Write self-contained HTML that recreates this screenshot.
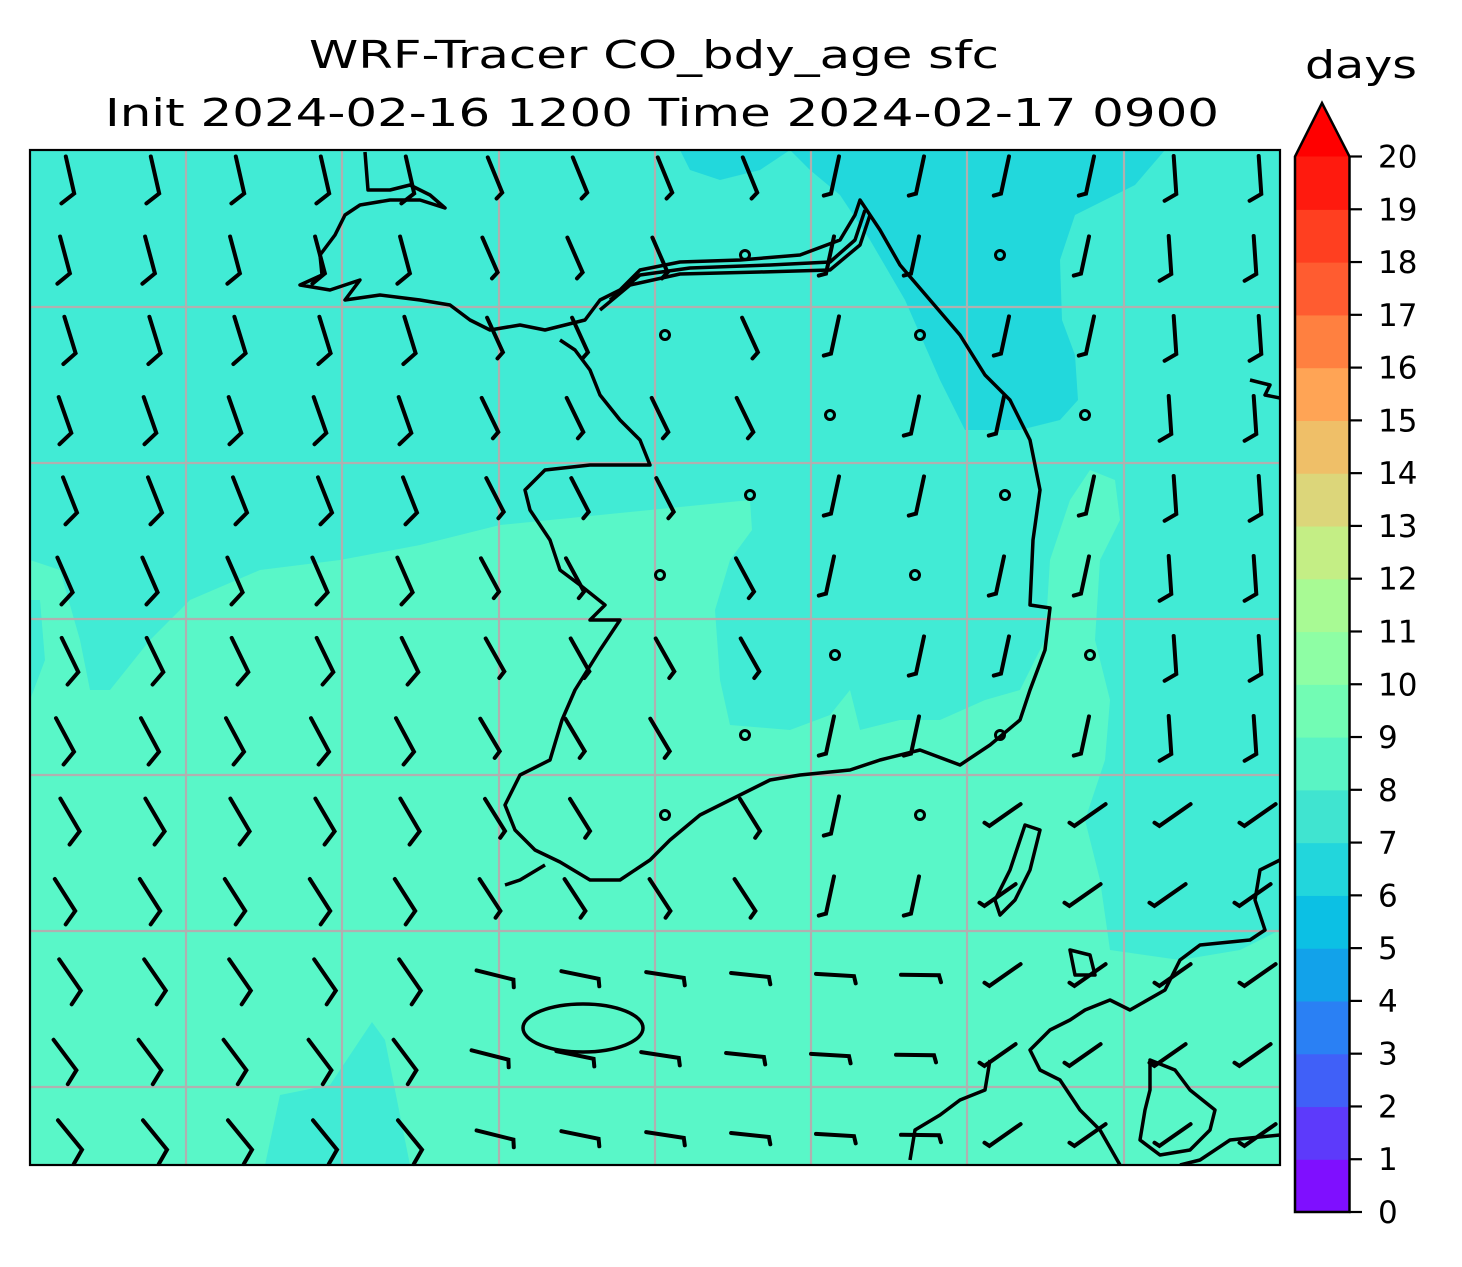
<!DOCTYPE html>
<html><head><meta charset="utf-8"><style>
html,body{margin:0;padding:0;background:#fff;}
svg{display:block;font-family:"DejaVu Sans","Liberation Sans",sans-serif;}
</style></head><body>
<svg id="s" width="1462" height="1267" viewBox="0 0 1462 1267" xmlns="http://www.w3.org/2000/svg">
<defs><clipPath id="c"><rect x="30" y="150" width="1250" height="1015"/></clipPath></defs>
<g clip-path="url(#c)">
<rect x="30" y="150" width="1250" height="1015" fill="#41ebd5"/>
<path fill="#59f7c8" d="M30,560 L60,570 L80,640 L90,690 L110,690 L150,640 L190,600 L260,570 L340,560 L420,545 L500,525 L600,515 L700,505 L750,500 L752,530 L730,560 L715,610 L720,680 L730,725 L790,730 L830,715 L850,690 L860,730 L900,720 L940,720 L985,700 L1020,690 L1045,640 L1050,560 L1070,500 L1090,470 L1115,480 L1120,520 L1100,560 L1095,640 L1110,700 L1105,760 L1085,820 L1100,880 L1110,950 L1180,960 L1240,950 L1280,930 L1280,1165 L30,1165 Z"/>
<path fill="#41ebd5" d="M265,1165 L280,1095 L330,1085 L360,1040 L372,1022 L385,1040 L395,1090 L410,1165 Z"/>
<path fill="#41ebd5" d="M30,600 L40,600 L45,660 L30,700 Z"/>
<path fill="#22d8dc" d="M790,150 L1165,150 L1135,185 L1075,215 L1060,260 L1062,320 L1075,355 L1078,400 L1060,420 L1020,430 L965,430 L940,380 L905,300 L870,240 L840,195 L810,170 Z"/>
<path fill="#22d8dc" d="M680,150 L790,150 L760,170 L720,180 L690,170 Z"/>
</g>
<g stroke="#b0b0b0" stroke-width="2.2">
<line x1="186" y1="150" x2="186" y2="1165"/><line x1="342" y1="150" x2="342" y2="1165"/><line x1="499" y1="150" x2="499" y2="1165"/><line x1="655" y1="150" x2="655" y2="1165"/><line x1="811" y1="150" x2="811" y2="1165"/><line x1="967" y1="150" x2="967" y2="1165"/><line x1="1124" y1="150" x2="1124" y2="1165"/>
<line x1="30" y1="307" x2="1280" y2="307"/><line x1="30" y1="463" x2="1280" y2="463"/><line x1="30" y1="619" x2="1280" y2="619"/><line x1="30" y1="775" x2="1280" y2="775"/><line x1="30" y1="931" x2="1280" y2="931"/><line x1="30" y1="1087" x2="1280" y2="1087"/>
</g>
<g clip-path="url(#c)" fill="none" stroke="#000" stroke-width="3.5" stroke-linejoin="round">
<path d="M365,152 L368,190 L390,190 L410,185 L430,195 L445,208 L420,200 L390,200 L360,205 L345,215 L335,235 L320,255 L322,275 L300,285 L330,290 L360,280 L345,300 L380,295 L420,300 L450,305 L470,320 L490,330 L520,325 L545,330 L565,325 L585,320 L600,300 L620,290 L640,270 L680,262 L740,260 L800,255 L840,240 L855,215 L860,200 L880,230 L900,265 L930,300 L960,335 L985,375 L1010,400 L1030,440 L1040,490 L1033,540 L1030,605 L1050,608 L1045,650 L1030,690 L1020,720 L990,745 L960,765 L920,750 L880,760 L850,770 L800,775 L770,780 L730,800 L700,815 L670,840 L650,860 L620,880 L590,880 L560,862 L535,850 L515,830 L505,805 L520,775 L550,760 L562,720 L575,690 L600,650 L620,620 L590,620 L605,605 L580,585 L560,570 L550,540 L530,510 L525,490 L545,470 L590,465 L650,465 L640,440 L620,420 L600,395 L590,370 L575,350 L560,340"/>
<path d="M610,300 L640,275 L690,268 L770,265 L830,262 L855,240 L865,210"/>
<path d="M600,310 L630,285 L680,274 L760,272 L830,270 L860,245 L870,215"/>
<path d="M545,865 L520,880 L505,885"/>
<ellipse cx="583" cy="1028" rx="60" ry="24"/>
<path d="M1025,825 L1040,830 L1030,870 L1015,900 L1000,915 L995,900 L1010,870 Z"/>
<path d="M1280,860 L1260,870 L1255,900 L1265,930 L1250,940 L1200,945 L1180,960 L1165,990 L1130,1010 L1110,1000 L1085,1010 L1070,1020 L1050,1030 L1030,1050 L1040,1070 L1060,1080 L1080,1110 L1100,1130 L1120,1165"/>
<path d="M1150,1060 L1175,1070 L1190,1090 L1215,1110 L1210,1130 L1190,1150 L1160,1155 L1140,1140 L1145,1110 L1150,1090 Z"/>
<path d="M990,1060 L985,1090 L960,1100 L940,1115 L915,1130 L910,1160"/>
<path d="M1280,1135 L1230,1140 L1200,1160 L1180,1165"/>
<path d="M1250,380 L1270,385 L1265,395 L1280,398"/>
<path d="M1070,950 L1090,955 L1095,975 L1075,975 Z"/>
</g>
<g id="barbs" fill="none" stroke="#000" stroke-width="4" stroke-linecap="round"></g>
<rect x="30" y="150" width="1250" height="1015" fill="none" stroke="#000" stroke-width="2.2"/>
<g id="cb"></g>
<text x="654" y="68" font-size="38" text-anchor="middle" textLength="690" lengthAdjust="spacingAndGlyphs">WRF-Tracer CO_bdy_age sfc</text>
<text x="662" y="126" font-size="38" text-anchor="middle" textLength="1114" lengthAdjust="spacingAndGlyphs">Init 2024-02-16 1200 Time 2024-02-17 0900</text>
<text x="1361" y="78" font-size="38" text-anchor="middle" textLength="112" lengthAdjust="spacingAndGlyphs">days</text>
</svg>
<script>
(function(){
var cols=["#7f0fff","#5d3afb","#4060f8","#2a80f4","#12a2ea","#0cc0e4","#22d6dc","#40e4d0","#5af4c4","#72fcb4","#8efea4","#a8fa94","#c4ee85","#dcd67a","#efbf68","#ffa455","#ff8040","#ff5c30","#ff3f20","#ff1a0e"];
var cb=document.getElementById("cb"),h="";
var yt=156.5,yb=1212,step=(yb-yt)/20;
for(var i=0;i<20;i++){var y=yb-(i+1)*step;h+='<rect x="1295" y="'+y+'" width="55" height="'+(step+0.6)+'" fill="'+cols[i]+'"/>';}
h+='<path d="M1295,156.5 L1322,103 L1349.5,156.5 Z" fill="#ff0000"/>';
h+='<path d="M1295,1212 L1295,156.5 L1322,103 L1349.5,156.5 L1349.5,1212 Z" fill="none" stroke="#000" stroke-width="2.5"/>';
for(var i=0;i<=20;i++){var y=yb-i*step;h+='<line x1="1349" y1="'+y+'" x2="1362" y2="'+y+'" stroke="#000" stroke-width="2.2"/><text x="1378" y="'+(y+11)+'" font-size="31">'+i+'</text>';}
cb.innerHTML=h;
var b=document.getElementById("barbs"),s="";
for(var r=0;r<13;r++){for(var c=0;c<15;c++){
 var x0=70+c*85+(r%2?-5:0), y0=175+r*80;
 var fx=(x0-30)/1250, fy=(y0-150)/1015;
 var ang,fl=8;
 if(fx<0.35){ang=12+fy*28;fl=14;}
 else if(fy>0.75&&fx<0.75){ang=75+(fx-0.35)*40;fl=7;}
 else if(fy>0.65&&fx>=0.75){ang=-55;fl=6;}
 else if(fx<0.6){ang=22+fy*15;fl=7;}
 else if(fx<0.85){ang=-12;fl=7;}
 else {ang=4;fl=12;}
 if(fx>0.45&&fx<0.85&&fy>0.05&&fy<0.7&&(r+c)%3==0){s+='<circle cx="'+x0+'" cy="'+y0+'" r="4.5" stroke-width="3"/>';continue;}
 var a=ang*Math.PI/180,L=38;
 var x1=x0-Math.sin(a)*L/2,y1=y0-Math.cos(a)*L/2,x2=x0+Math.sin(a)*L/2,y2=y0+Math.cos(a)*L/2;
 var x3=x2-Math.cos(a)*fl+Math.sin(a)*fl*0.3,y3=y2+Math.sin(a)*fl+Math.cos(a)*fl*0.5;
 s+='<path d="M'+x1.toFixed(1)+','+y1.toFixed(1)+' L'+x2.toFixed(1)+','+y2.toFixed(1)+' L'+x3.toFixed(1)+','+y3.toFixed(1)+'"/>';
}}
b.innerHTML=s;
})();
</script>
</body></html>
